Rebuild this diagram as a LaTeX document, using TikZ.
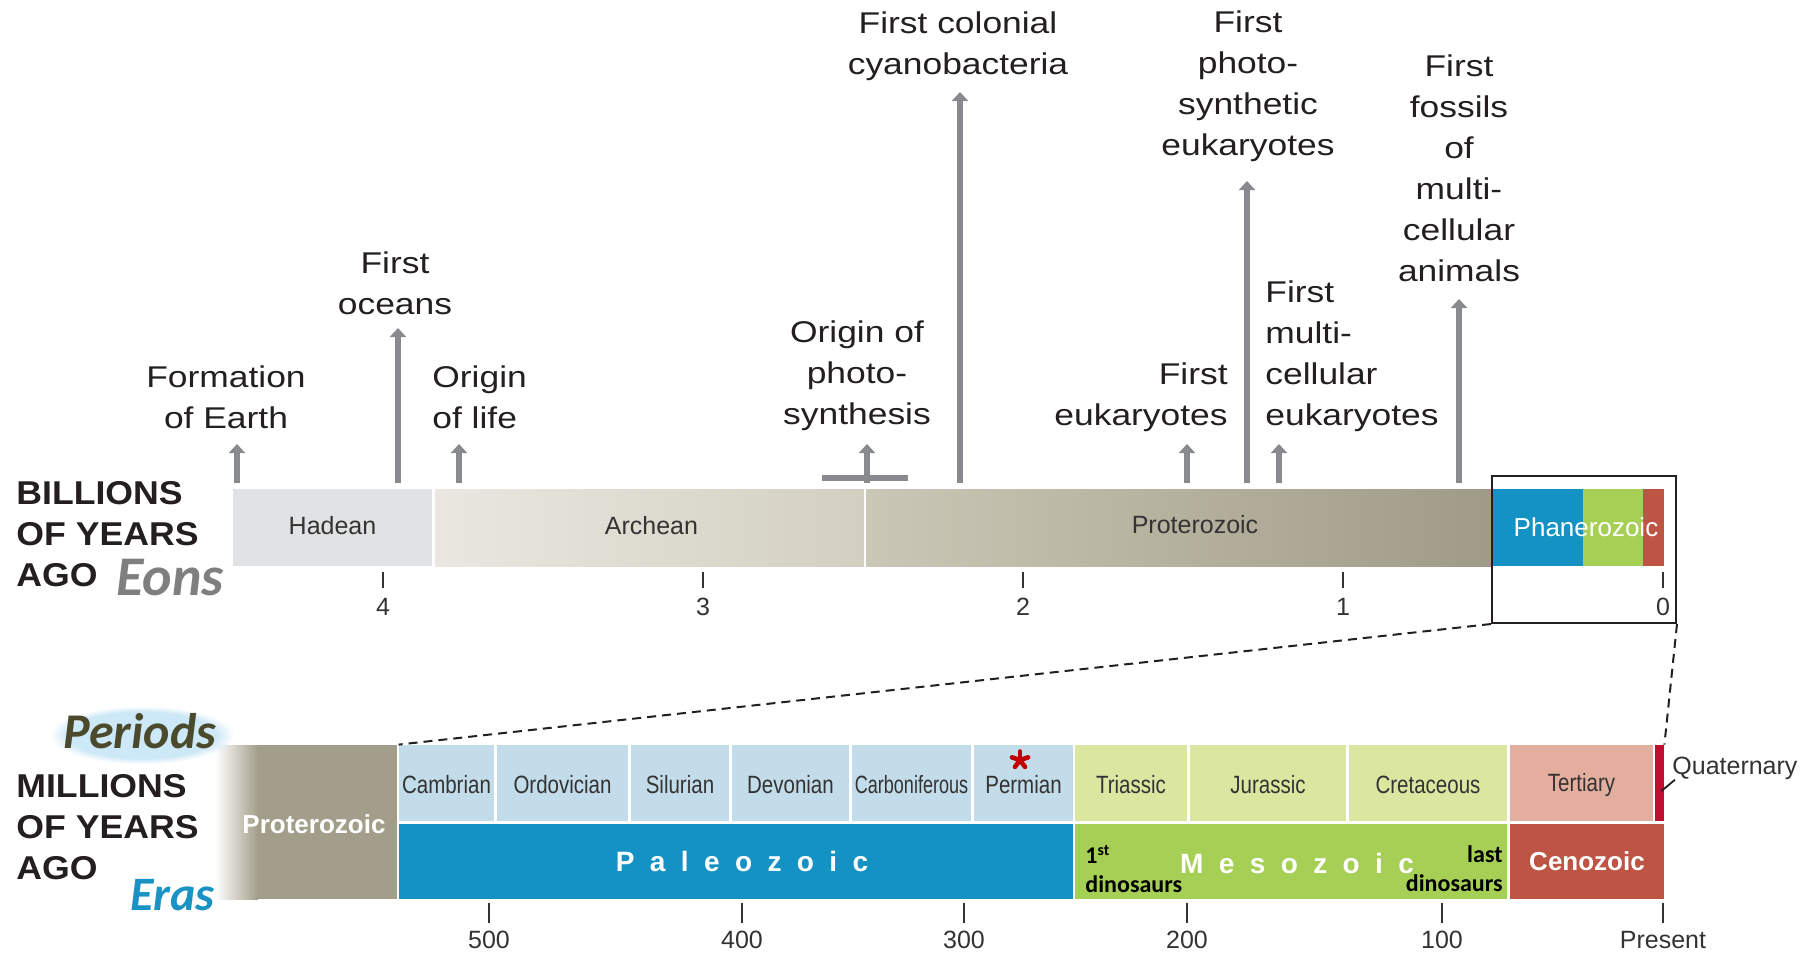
\documentclass[tikz,border=0pt]{standalone}
\usepackage{fontspec}
\setmainfont{Liberation Sans}
\newfontfamily\wideface[FakeStretch=1.18]{Liberation Sans}
\newfontfamily\headface[FakeStretch=1.08]{Liberation Sans}
\newfontfamily\narrowface[FakeStretch=0.82]{Liberation Sans}
\newfontfamily\trackface[LetterSpace=55]{Liberation Sans}
\newfontfamily\calface{Carlito}
\usetikzlibrary{arrows.meta,fit,fadings}

\definecolor{hadeancol}{HTML}{E1E2E4}
\definecolor{archL}{HTML}{E9E7E0}
\definecolor{archR}{HTML}{D3D0C2}
\definecolor{protL}{HTML}{CAC7B6}
\definecolor{protR}{HTML}{A09B87}
\definecolor{protbot}{HTML}{A39E8A}
\definecolor{paleocol}{HTML}{1592C4}
\definecolor{mesocol}{HTML}{A6CF55}
\definecolor{cenocol}{HTML}{BD5444}
\definecolor{paleolight}{HTML}{C3DCEA}
\definecolor{mesolight}{HTML}{DBE7A1}
\definecolor{tertcol}{HTML}{E3AE9D}
\definecolor{quatcol}{HTML}{BE0F2E}
\definecolor{arrowgray}{HTML}{898A8E}
\definecolor{inkdark}{HTML}{231F20}
\definecolor{eontext}{HTML}{333333}
\definecolor{eonsgray}{HTML}{7F7F7F}
\definecolor{erasblue}{HTML}{1B92C4}
\definecolor{periodsink}{HTML}{4B4A2C}
\definecolor{glowblue}{HTML}{CDE8F6}
\definecolor{starred}{HTML}{C00000}

\tikzset{
  eoncell/.style={inner sep=0, font=\fontsize{12.5}{15}\selectfont, text=eontext},
  event/.style={inner sep=0, align=center, text=inkdark, font=\wideface\fontsize{15}{20.5}\selectfont},
  evarrow/.style={draw=arrowgray, line width=3.2pt, -{Triangle[width=8pt,length=4.5pt]}},
  period/.style={inner sep=0, text=eontext, font=\narrowface\fontsize{12.5}{15}\selectfont},
  era/.style={inner sep=0, text=white, font=\bfseries\fontsize{13}{15}\selectfont},
  tracked/.style={inner sep=0, text=white, font=\trackface\bfseries\fontsize{14}{15}\selectfont},
  dino/.style={inner sep=0, text=black, font=\calface\bfseries\fontsize{12}{14.5}\selectfont},
  tickmark/.style={draw=eontext, line width=1pt},
  ticklabel/.style={inner sep=0, text=eontext, font=\fontsize{12.5}{15}\selectfont},
  heading/.style={inner sep=0, align=left, anchor=west, text=inkdark, font=\headface\bfseries\fontsize{16.5}{20.5}\selectfont},
  zoomline/.style={draw=inkdark, line width=1pt, dash pattern=on 4.5pt off 3pt}
}

\begin{document}
\begin{tikzpicture}[x=0.5pt, y=-0.5pt]
\useasboundingbox (0,0) rectangle (1817,954);

\node[eoncell, fill=hadeancol, fit={(233,489) (432,566)}] (hadean) {};
\node[eoncell] (hadean-label) at ([yshift=1]hadean.center) {Hadean};
\node[eoncell, left color=archL, right color=archR, fit={(435,489) (864,566)}] (archean) {};
\node[eoncell] (archean-label) at ([xshift=1, yshift=1]archean.center) {Archean};
\node[eoncell, left color=protL, right color=protR, fit={(866,489) (1492,566)}] (proterozoic) {};
\node[eoncell] (proterozoic-label) at (1195,525) {Proterozoic};
\node[eoncell, fill=paleocol, fit={(1492,489) (1583,566)}] (phan-paleo) {};
\node[eoncell, fill=mesocol, fit={(1583,489) (1643,566)}] (phan-meso) {};
\node[eoncell, fill=cenocol, fit={(1643,489) (1664,566)}] (phan-ceno) {};
\node[eoncell, text=white, font=\fontsize{13}{15}\selectfont] (phanerozoic) at (1586,527) {Phanerozoic};

\foreach \x/\lab in {383/4,703/3,1023/2,1343/1,1663/0} {
  \draw[tickmark] (\x,572) -- (\x,588);
  \node[ticklabel] (bya-\lab) at (\x,607) {\lab};
}

\node[event] (earth-label) at (226,397) {Formation\\of Earth};
\node[event] (oceans-label) at (395,283) {First\\oceans};
\node[event, anchor=west, align=left] (life-label) at (432,397) {Origin\\of life};
\node[event] (photo-label) at (857,376) {Origin of\\photo-\\synthesis};
\node[event] (cyano-label) at (958,46) {First colonial\\cyanobacteria};
\node[event] (photoeuk-label) at (1248,86) {First\\photo-\\synthetic\\eukaryotes};
\node[event, anchor=east, align=right] (euk-label) at (1228,397) {First\\eukaryotes};
\node[event, anchor=west, align=left] (multi-label) at (1265,356) {First\\multi-\\cellular\\eukaryotes};
\node[event] (animals-label) at (1459,168) {First\\fossils\\of\\multi-\\cellular\\animals};

\foreach \name/\x/\tip in {earth/237/444, oceans/398/328, life/459/444, photo/867/444,
    cyano/960/92, euk/1187/444, photoeuk/1247/181, multi/1279/444, animals/1459/299} {
  \coordinate (\name-base) at (\x,483);
  \coordinate (\name-tip) at (\x,\tip);
  \draw[evarrow] (\name-base) -- (\name-tip);
}
\coordinate (photo-left) at (822,478);
\coordinate (photo-right) at (908,478);
\draw[draw=arrowgray, line width=2.8pt] (photo-left) -- (photo-right);

\node[heading] (billions) at (16,534) {BILLIONS\\OF YEARS\\AGO};
\node[inner sep=0, anchor=base west, text=eonsgray, font=\calface\bfseries\itshape\fontsize{28}{28}\selectfont] (eons) at (116,595) {Eons};

\node[eoncell, draw=inkdark, line width=1pt, fit={(1492,476) (1676,623)}] (zoombox) {};

\shade[left color=white, right color=protbot] (215,745) rectangle (258,899);
\node[eoncell, fill=protbot, fit={(257,745) (397,899)}] (proterozoic-bottom) {};
\node[era] (proterozoic-bottom-label) at (314,824) {Proterozoic};

\foreach \name/\xa/\xb/\lab/\col in {cambrian/399/494/Cambrian/paleolight,
    ordovician/497/628/Ordovician/paleolight, silurian/631/729/Silurian/paleolight,
    devonian/732/849/Devonian/paleolight,
    carboniferous/852/971/{\scalebox{0.88}[1]{Carboniferous}}/paleolight,
    permian/974/1073/Permian/paleolight, triassic/1075/1187/Triassic/mesolight,
    jurassic/1190/1346/Jurassic/mesolight, cretaceous/1349/1507/Cretaceous/mesolight,
    tertiary/1510/1653/Tertiary/tertcol} {
  \node[period, fill=\col, fit={(\xa,745) (\xb,821)}] (\name) {};
  \node[period] (\name-label) at ([yshift=-1]\name.center) {\lab};
}
\node[period, fill=quatcol, fit={(1655,745) (1664,821)}] (quaternary) {};
\node[period, anchor=west] (quaternary-label) at (1672,768) {\fontsize{12.5}{15}\selectfont\rmfamily Quaternary};
\draw[draw=inkdark, line width=0.9pt] ([shift={(-3,8)}]quaternary.east) -- ([shift={(3,0)}]quaternary-label.south west);
\coordinate (permian-star) at (1020,760);
\foreach \a in {270,342,54,126,198}
  \draw[starred, line width=2.3pt, line cap=round] (permian-star) -- ++(\a:8.5);

\node[era, fill=paleocol, fit={(399,824) (1073,899)}] (paleozoic) {};
\node[tracked] (paleozoic-label) at (742,861) {Paleozoic};
\node[era, fill=mesocol, fit={(1075,824) (1507,899)}] (mesozoic) {};
\node[tracked] (mesozoic-label) at (1297,863) {Mesozoic};
\node[era, fill=cenocol, fit={(1510,824) (1664,899)}] (cenozoic) {};
\node[era] (cenozoic-label) at (cenozoic.center) {Cenozoic};
\node[dino, anchor=west, align=left] (first-dino) at (1085,869) {1\textsuperscript{st}\\dinosaurs};
\node[dino, anchor=east, align=right] (last-dino) at (1503,869) {last\\dinosaurs};

\draw[zoomline] (zoombox.south west) -- (cambrian.north west);
\draw[zoomline] (zoombox.south east) -- (quaternary.north east);

\foreach \x/\lab in {489/500,742/400,964/300,1187/200,1442/100,1663/Present} {
  \draw[tickmark] (\x,903) -- (\x,923);
  \node[ticklabel] (mya-\lab) at (\x,940) {\lab};
}

\fill[glowblue, path fading=circle with fuzzy edge 20 percent] (50,706) rectangle (234,764);
\node[inner sep=0, anchor=base west, text=periodsink, font=\calface\bfseries\itshape\fontsize{25}{25}\selectfont] (periods) at (63,748) {Periods};
\node[heading] (millions) at (16,827) {MILLIONS\\OF YEARS\\AGO};
\node[inner sep=0, anchor=base west, text=erasblue, font=\calface\bfseries\itshape\fontsize{24}{24}\selectfont] (eras) at (130,910) {Eras};
\end{tikzpicture}
\end{document}
